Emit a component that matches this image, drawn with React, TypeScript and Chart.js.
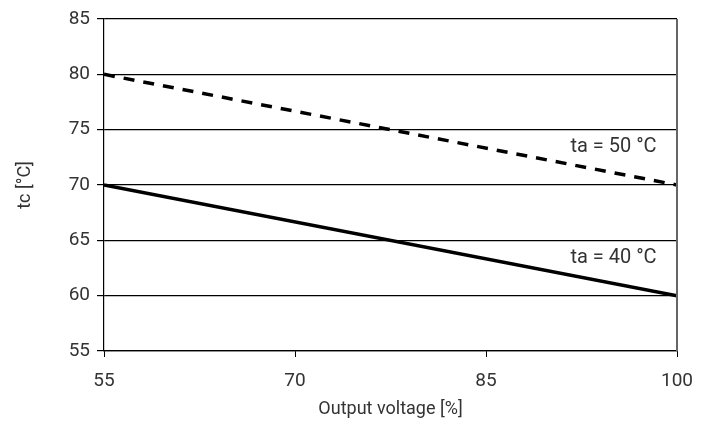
import React, { useEffect, useRef } from "react";
import { Chart, registerables } from "chart.js";

Chart.register(...registerables);

// Data
const outputVoltage = [55, 100];
const tcTa40 = [70, 60];
const tcTa50 = [80, 70];
const seriesLabels = ["ta = 40 °C", "ta = 50 °C"];
const xTicks = [55, 70, 85, 100];
const yTicks = [55, 60, 65, 70, 75, 80, 85];
// label anchors (data coordinates)
const labelAnchorX = [98.4, 98.4];
const labelAnchorY = [63.4, 73.4];

const FONT = "Roboto, 'Liberation Sans', sans-serif";
const TEXT = "#333333";

export default function App() {
  const ref = useRef<HTMLCanvasElement | null>(null);
  useEffect(() => {
    if (!ref.current) return;
    const labelPlugin = {
      id: "labelsAndBorder",
      afterDraw(chart: any) {
        const { ctx, chartArea } = chart;
        ctx.save();
        ctx.strokeStyle = "#666666";
        ctx.lineWidth = 2;
        ctx.beginPath();
        ctx.moveTo(chartArea.right, chartArea.top);
        ctx.lineTo(chartArea.right, chartArea.bottom);
        ctx.stroke();
        ctx.fillStyle = TEXT;
        ctx.font = `20px ${FONT}`;
        ctx.textAlign = "right";
        ctx.textBaseline = "middle";
        seriesLabels.forEach((t, i) => {
          const px = chart.scales.x.getPixelForValue(labelAnchorX[i]);
          const py = chart.scales.y.getPixelForValue(labelAnchorY[i]);
          ctx.fillText(t, px, py);
        });
        ctx.restore();
      },
    };
    const chart = new Chart(ref.current, {
      type: "line",
      data: {
        datasets: [
          {
            label: seriesLabels[0],
            data: outputVoltage.map((x, i) => ({ x, y: tcTa40[i] })),
            borderColor: "#000000",
            borderWidth: 3.5,
            pointRadius: 0,
            fill: false,
          },
          {
            label: seriesLabels[1],
            data: outputVoltage.map((x, i) => ({ x, y: tcTa50[i] })),
            borderColor: "#000000",
            borderWidth: 3.5,
            borderDash: [11, 9],
            pointRadius: 0,
            fill: false,
          },
        ],
      },
      options: {
        animation: false,
        responsive: true,
        maintainAspectRatio: false,
        layout: { padding: { top: 19, right: 36, left: 0, bottom: 0 } },
        plugins: { legend: { display: false }, tooltip: { enabled: false } },
        scales: {
          x: {
            type: "linear",
            min: xTicks[0],
            max: xTicks[xTicks.length - 1],
            afterBuildTicks: (s: any) => {
              s.ticks = xTicks.map((v) => ({ value: v }));
            },
            afterFit: (s: any) => {
              s.height = 75;
            },
            ticks: { font: { family: FONT, size: 19 }, color: TEXT, padding: 13 },
            grid: { drawOnChartArea: false, drawTicks: true, tickLength: 6, color: "#000000" },
            border: { display: true, color: "#000000", width: 1.2 },
            title: {
              display: true,
              text: "Output voltage [%]",
              font: { family: FONT, size: 18 },
              color: TEXT,
              align: "center",
              padding: { top: 0, bottom: 6 },
            },
          },
          y: {
            type: "linear",
            min: yTicks[0],
            max: yTicks[yTicks.length - 1],
            afterBuildTicks: (s: any) => {
              s.ticks = yTicks.map((v) => ({ value: v }));
            },
            afterFit: (s: any) => {
              s.width = 104;
            },
            ticks: { font: { family: FONT, size: 19 }, color: TEXT, padding: 7 },
            grid: { color: "#000000", lineWidth: 1.2, tickLength: 7 },
            border: { display: true, color: "#000000", width: 1.2 },
            title: {
              display: true,
              text: "tc [°C]",
              font: { family: FONT, size: 18 },
              color: TEXT,
              padding: { top: 15, bottom: 0 },
            },
          },
        },
      },
      plugins: [labelPlugin],
    });
    return () => chart.destroy();
  }, []);
  return (
    <div style={{ position: "fixed", left: 0, top: 0, width: 713, height: 426, background: "#fff" }}>
      <canvas ref={ref} />
    </div>
  );
}
